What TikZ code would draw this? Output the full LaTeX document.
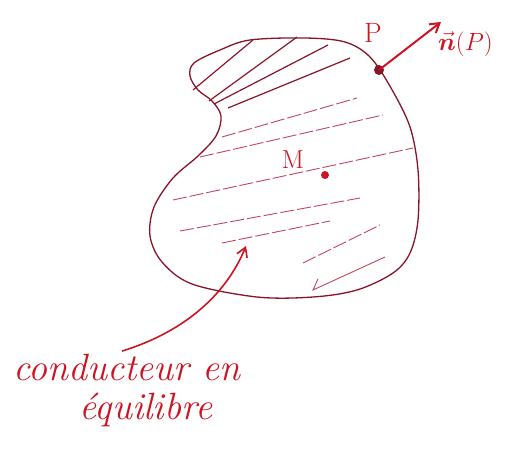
\documentclass[tikz,border=0pt]{standalone}
\usepackage{amsmath,amssymb}
\usepackage{tikz}
\usetikzlibrary{arrows.meta}
\usepackage{xcolor}
\definecolor{inkred}{RGB}{205, 20, 35}
\definecolor{blobred}{RGB}{135, 20, 40}
\definecolor{hatchred}{RGB}{190, 70, 95}

\begin{document}
\begin{tikzpicture}[x=1pt, y=-1pt, >={Straight Barb[length=9pt,width=11pt]}]
    \useasboundingbox (0,0) rectangle (508,454);
    % conducteur
    \draw[blobred, line width=1.3pt] plot[smooth cycle, tension=0.55] coordinates {
      (250,40) (220,50) (194,63) (190,76) (198,90) (212,101) (221,116) (216,136)
      (198,156) (173,178) (154,207) (150,236) (162,262) (192,284) (257,297)
      (313,297) (357,290) (393,273) (410,253) (418,220) (418,170) (410,127)
      (391,88) (370,57) (345,42) (305,38)
    };
    % hachures
    \foreach \xa/\ya/\xb/\yb in {193/90/253/40, 209/101/297/37, 214/104/328/45, 228/108/350/58}
      {\draw[blobred, line width=1.2pt] (\xa,\ya) -- (\xb,\yb);}
    \foreach \xa/\ya/\xb/\yb in {222/137/357/98, 200/157/383/115, 173/200/413/148,
        180/231/360/198, 222/243/330/221, 303/263/380/225}
      {\draw[hatchred, line width=0.9pt, dash pattern=on 14pt off 3pt] (\xa,\ya) -- (\xb,\yb);}
    \draw[hatchred, line width=0.9pt] (318,279) -- (313,290) -- (385,257);
    % points
    \fill[inkred] (325,175) circle (4pt) coordinate (M);
    \node[inkred, font=\fontsize{26}{28}\selectfont] (Mlbl) at (293,160) {M};
    \fill[blobred] (379,70) circle (5pt) coordinate (P);
    \node[inkred, font=\fontsize{28}{30}\selectfont] (Plbl) at (373,33) {P};
    \coordinate (ntip) at (441,22);
    \draw[->, inkred, line width=2pt] (P) -- (ntip);
    \node[inkred, font=\fontsize{26}{28}\selectfont, anchor=west, inner sep=0pt] (nlbl) at (438,44) {$\vec{\boldsymbol n}(P)$};
    % legende
    \node[inkred, font=\fontsize{38}{40}\selectfont\itshape] (lbl1) at (127,368) {conducteur en};
    \node[inkred, font=\fontsize{38}{40}\selectfont\itshape] (lbl2) at (146,410) {équilibre};
    \coordinate (tip) at (246,246);
    \draw[->, inkred, line width=1.6pt] ([xshift=-5pt]lbl1.north) .. controls (190,330) and (228,290) .. (tip);
  \end{tikzpicture}
\end{document}
